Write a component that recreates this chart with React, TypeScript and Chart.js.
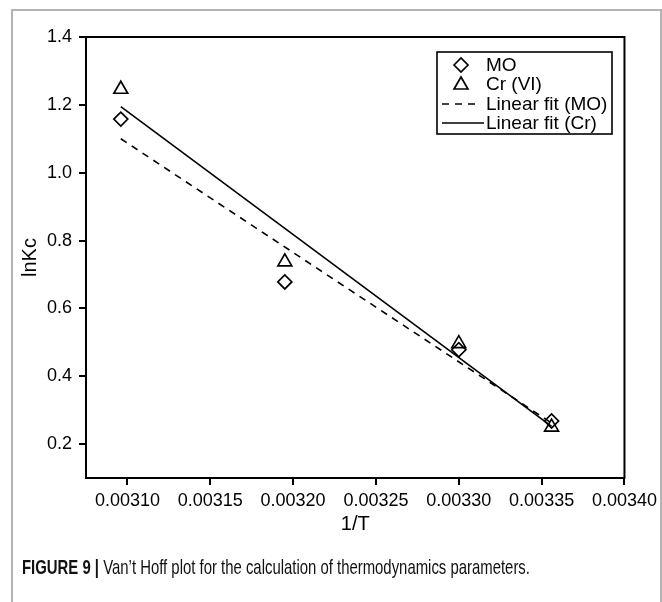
import React, { useEffect, useLayoutEffect, useRef } from "react";
import { Chart, registerables } from "chart.js";

Chart.register(...registerables);

// ---- data ----
const invT = [0.003096, 0.003195, 0.0033, 0.003356];
const lnKcMO = [1.158, 0.678, 0.478, 0.268];
const lnKcCr = [1.246, 0.737, 0.496, 0.25];
const fitX = [0.003096, 0.003356];
const fitMO = [1.1, 0.262];
const fitCr = [1.195, 0.252];
const seriesLabels = ["MO", "Cr (VI)", "Linear fit (MO)", "Linear fit (Cr)"];
const xTicks = [0.0031, 0.00315, 0.0032, 0.00325, 0.0033, 0.00335, 0.0034];
const yTicks = [0.2, 0.4, 0.6, 0.8, 1.0, 1.2, 1.4];
const xTitle = "1/T";
const yTitle = "lnKc";

const FONT = '"Liberation Sans", Arial, Helvetica, sans-serif';

function drawDiamond(ctx: CanvasRenderingContext2D, x: number, y: number, r: number) {
  ctx.beginPath();
  ctx.moveTo(x - r, y);
  ctx.lineTo(x, y - r);
  ctx.lineTo(x + r, y);
  ctx.lineTo(x, y + r);
  ctx.closePath();
  ctx.stroke();
}
function drawTriangle(ctx: CanvasRenderingContext2D, x: number, y: number, r: number) {
  ctx.beginPath();
  ctx.moveTo(x, y - r);
  ctx.lineTo(x + Math.sin((2 * Math.PI) / 3) * r, y - Math.cos((2 * Math.PI) / 3) * r);
  ctx.lineTo(x + Math.sin((4 * Math.PI) / 3) * r, y - Math.cos((4 * Math.PI) / 3) * r);
  ctx.closePath();
  ctx.stroke();
}

const framePlugin = {
  id: "frameAndLegend",
  afterDraw(chart: any) {
    const ctx: CanvasRenderingContext2D = chart.ctx;
    const { left, top, right, bottom } = chart.chartArea;
    ctx.save();
    ctx.strokeStyle = "#000";
    ctx.lineWidth = 2;
    ctx.strokeRect(left, top, right - left, bottom - top);

    // legend box
    const bx = 437, by = 52, bw = 175, bh = 82;
    ctx.lineWidth = 1.6;
    ctx.strokeRect(bx, by, bw, bh);
    const rowY = [65, 84, 104, 123];
    ctx.font = `19px ${FONT}`;
    ctx.fillStyle = "#000";
    ctx.textBaseline = "middle";
    ctx.textAlign = "left";
    const tx = 486;
    seriesLabels.forEach((lab, i) => {
      const y = rowY[i];
      ctx.lineWidth = 1.7;
      ctx.setLineDash([]);
      if (i === 0) drawDiamond(ctx, 461, y, 7);
      else if (i === 1) drawTriangle(ctx, 461, y + 1, 8);
      else if (i === 2) {
        ctx.setLineDash([7, 6]);
        ctx.beginPath();
        ctx.moveTo(442, y);
        ctx.lineTo(481, y);
        ctx.stroke();
        ctx.setLineDash([]);
      } else {
        ctx.beginPath();
        ctx.moveTo(442, y);
        ctx.lineTo(484, y);
        ctx.stroke();
      }
      ctx.fillText(lab, tx, y + 1);
    });
    ctx.restore();
  },
};

function Caption() {
  const ref = useRef<HTMLDivElement>(null);
  useLayoutEffect(() => {
    const el = ref.current;
    if (!el) return;
    const w = el.scrollWidth;
    const target = 508;
    el.style.transform = `scaleX(${target / w})`;
  }, []);
  return (
    <div
      ref={ref}
      style={{
        position: "absolute",
        left: 22,
        top: 555,
        whiteSpace: "nowrap",
        fontFamily: '"Liberation Sans Narrow", "Liberation Sans", Arial, sans-serif',
        fontSize: 21,
        color: "#111",
        transformOrigin: "left center",
        display: "inline-block",
      }}
    >
      <b>FIGURE 9 |</b> Van’t Hoff plot for the calculation of thermodynamics parameters.
    </div>
  );
}

export default function App() {
  const canvasRef = useRef<HTMLCanvasElement>(null);

  useEffect(() => {
    const canvas = canvasRef.current;
    if (!canvas) return;
    const chart = new Chart(canvas, {
      type: "scatter",
      data: {
        datasets: [
          {
            label: seriesLabels[0],
            data: invT.map((x, i) => ({ x, y: lnKcMO[i] })),
            pointStyle: "rectRot",
            pointRadius: 7,
            pointBorderWidth: 1.7,
            borderColor: "#000",
            backgroundColor: "rgba(0,0,0,0)",
            order: 1,
          },
          {
            label: seriesLabels[1],
            data: invT.map((x, i) => ({ x, y: lnKcCr[i] })),
            pointStyle: "triangle",
            pointRadius: 8,
            pointBorderWidth: 1.7,
            borderColor: "#000",
            backgroundColor: "rgba(0,0,0,0)",
            order: 0,
          },
          {
            label: seriesLabels[2],
            data: fitX.map((x, i) => ({ x, y: fitMO[i] })),
            showLine: true,
            pointRadius: 0,
            borderColor: "#000",
            borderWidth: 1.6,
            borderDash: [7, 6],
            order: 3,
          },
          {
            label: seriesLabels[3],
            data: fitX.map((x, i) => ({ x, y: fitCr[i] })),
            showLine: true,
            pointRadius: 0,
            borderColor: "#000",
            borderWidth: 1.6,
            order: 2,
          },
        ],
      },
      options: {
        animation: false,
        responsive: false,
        maintainAspectRatio: false,
        layout: { padding: { left: 0, top: 37, right: 35, bottom: 0 } },
        plugins: {
          legend: { display: false },
          tooltip: { enabled: false },
        },
        scales: {
          x: {
            type: "linear",
            min: 0.003075,
            max: 0.0034,
            afterBuildTicks: (s: any) => {
              s.ticks = xTicks.map((v) => ({ value: v }));
            },
            afterFit: (s: any) => {
              s.height = 82;
            },
            ticks: {
              callback: (v: any) => Number(v).toFixed(5),
              color: "#000",
              font: { family: FONT, size: 18 },
              padding: 5,
              maxRotation: 0,
              autoSkip: false,
            },
            grid: {
              display: true,
              drawOnChartArea: false,
              drawTicks: true,
              tickLength: 7,
              color: "#000",
              lineWidth: 2,
            },
            border: { display: true, color: "#000", width: 2 },
            title: {
              display: true,
              text: xTitle,
              color: "#000",
              font: { family: FONT, size: 20 },
              padding: { top: 0, bottom: 24 },
            },
          },
          y: {
            type: "linear",
            min: 0.1,
            max: 1.4,
            afterBuildTicks: (s: any) => {
              s.ticks = yTicks.map((v) => ({ value: v }));
            },
            afterFit: (s: any) => {
              s.width = 86;
            },
            ticks: {
              callback: (v: any) => Number(v).toFixed(1),
              color: "#000",
              font: { family: FONT, size: 18 },
              padding: 7,
              autoSkip: false,
            },
            grid: {
              display: true,
              drawOnChartArea: false,
              drawTicks: true,
              tickLength: 7,
              color: "#000",
              lineWidth: 2,
            },
            border: { display: true, color: "#000", width: 2 },
            title: {
              display: true,
              text: yTitle,
              color: "#000",
              font: { family: FONT, size: 20 },
              padding: { top: 18, bottom: 0 },
            },
          },
        },
      },
      plugins: [framePlugin],
    });
    return () => chart.destroy();
  }, []);

  return (
    <div
      style={{
        position: "absolute",
        left: 0,
        top: 0,
        width: 662,
        height: 602,
        background: "#fff",
        overflow: "hidden",
      }}
    >
      <div
        style={{
          position: "absolute",
          left: 11,
          top: 9,
          width: 647,
          height: 600,
          borderTop: "2px solid #b4b4b4",
          borderLeft: "2px solid #b4b4b4",
          borderRight: "2px solid #b4b4b4",
        }}
      />
      <canvas
        ref={canvasRef}
        width={662}
        height={560}
        style={{ position: "absolute", left: 0, top: 0, width: 662, height: 560 }}
      />
      <Caption />
    </div>
  );
}
